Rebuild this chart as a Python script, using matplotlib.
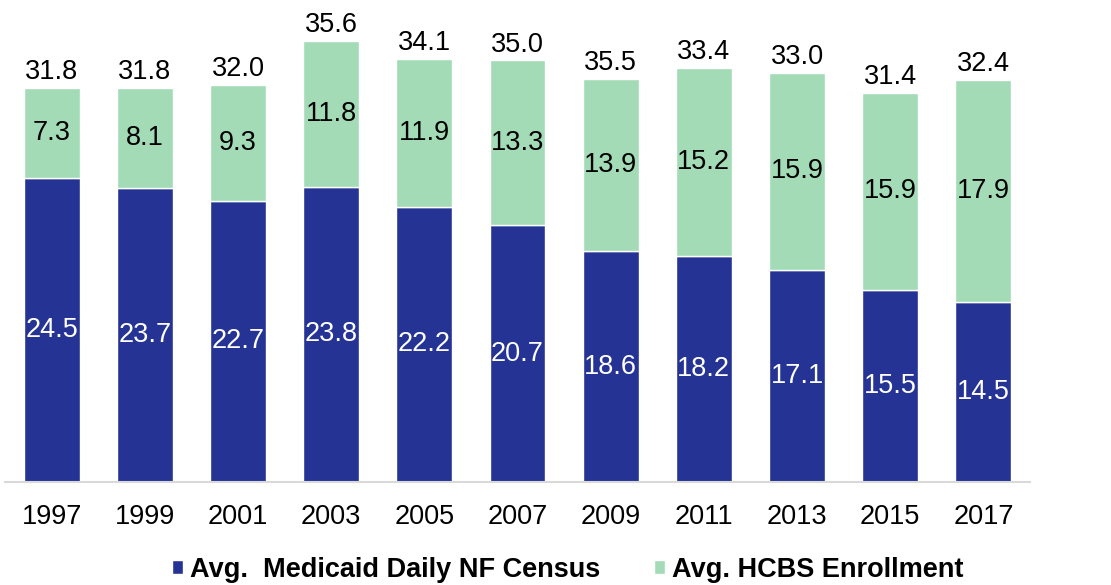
import numpy as np
import matplotlib.pyplot as plt
import matplotlib as mpl

years = ['1997', '1999', '2001', '2003', '2005', '2007', '2009', '2011', '2013', '2015', '2017']
nf_census = [24.5, 23.7, 22.7, 23.8, 22.2, 20.7, 18.6, 18.2, 17.1, 15.5, 14.5]
hcbs = [7.3, 8.1, 9.3, 11.8, 11.9, 13.3, 13.9, 15.2, 15.9, 15.9, 17.9]
totals = ['31.8', '31.8', '32.0', '35.6', '34.1', '35.0', '35.5', '33.4', '33.0', '31.4', '32.4']

NAVY = '#253494'
GREEN = '#a2dbb6'
FS = 19.5

mpl.rcParams['font.family'] = ['Liberation Sans', 'DejaVu Sans']

fig = plt.figure(figsize=(11.11, 5.85), dpi=100)
px = 12.4  # pixels per unit
ymax = 40
ax = fig.add_axes([5 / 1111, (585 - 482) / 585, 1025 / 1111, ymax * px / 585])

x = np.arange(len(years))
nf = np.array(nf_census)
hc = np.array(hcbs)
b1 = ax.bar(x, nf, width=0.6, color=NAVY, edgecolor='white', linewidth=1, label='Avg.  Medicaid Daily NF Census')
b2 = ax.bar(x, hc, width=0.6, bottom=nf, color=GREEN, edgecolor='white', linewidth=1, label='Avg. HCBS Enrollment')

for i in range(len(x)):
    ax.text(x[i], nf[i] / 2, f'{nf[i]:.1f}', ha='center', va='center', color='white', fontsize=FS)
    ax.text(x[i], nf[i] + hc[i] / 2, f'{hc[i]:.1f}', ha='center', va='center', color='black', fontsize=FS)
    ax.annotate(totals[i], (x[i], nf[i] + hc[i]), xytext=(0, 2), textcoords='offset points',
                ha='center', va='bottom', fontsize=FS)

ax.set_xlim(-0.5, len(years) - 0.5)
ax.set_ylim(0, ymax)
ax.set_xticks(x)
ax.set_xticklabels(years, fontsize=FS)
ax.tick_params(axis='x', length=0, pad=16)
ax.set_yticks([])
for s in ['top', 'right', 'left']:
    ax.spines[s].set_visible(False)
ax.spines['bottom'].set_color('#d9d9d9')
ax.spines['bottom'].set_linewidth(1.5)

leg = fig.legend(handles=[b1, b2], loc='center', bbox_to_anchor=(568 / 1111, 1 - 570 / 585),
                 ncol=2, frameon=False, handlelength=0.4, handleheight=0.4, handletextpad=0.25,
                 columnspacing=2.0, prop={'weight': 'bold', 'size': FS})

fig.savefig('out.png', dpi=100)
